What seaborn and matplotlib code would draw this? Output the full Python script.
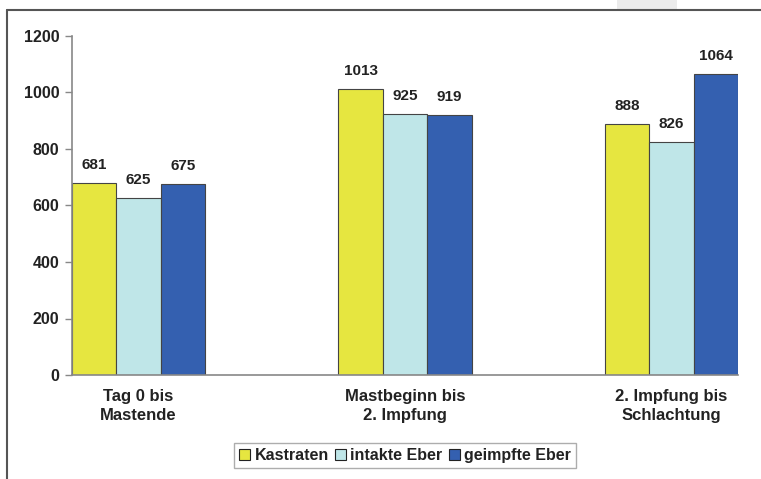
import matplotlib
matplotlib.use("Agg")
import matplotlib.pyplot as plt
from matplotlib.lines import Line2D
from matplotlib.patches import Rectangle
import seaborn as sns
import pandas as pd

# Phases (with empty spacer slots between them), groups and values
phases = ["Tag 0 bis\nMastende", "Mastbeginn bis\n2. Impfung", "2. Impfung bis\nSchlachtung"]
groups = ["Kastraten", "intakte Eber", "geimpfte Eber"]
kastraten = [681, 1013, 888]
intakte_eber = [625, 925, 826]
geimpfte_eber = [675, 919, 1064]
y_ticks = [0, 200, 400, 600, 800, 1000, 1200]

colors = ["#E6E640", "#BFE6E8", "#3460B0"]

rows = []
for g, vals in zip(groups, [kastraten, intakte_eber, geimpfte_eber]):
    for p, v in zip(phases, vals):
        rows.append({"Phase": p, "Gruppe": g, "Wert": v})
df = pd.DataFrame(rows)

order = [phases[0], " ", phases[1], "  ", phases[2]]

sns.set_style("white")
plt.rcParams["font.family"] = ["Liberation Sans", "DejaVu Sans"]
plt.rcParams["font.weight"] = "bold"

fig = plt.figure(figsize=(7.61, 4.79), dpi=100)
ax = fig.add_axes([72 / 761, 1 - 375 / 479, (738 - 72) / 761, (375 - 36) / 479])

sns.barplot(data=df, x="Phase", y="Wert", hue="Gruppe", order=order,
            hue_order=groups, palette=colors, saturation=1, width=1.0, gap=0,
            edgecolor="#444444", linewidth=0.8, ax=ax, legend=True)

for cont in ax.containers:
    ax.bar_label(cont, fmt="%d", padding=8, fontsize=11, fontweight="bold",
                 color="#222222")

ax.set_xlim(-0.5, 4.5)
ax.set_ylim(0, 1200)
ax.set_yticks(y_ticks)
ax.set_yticklabels([str(t) for t in y_ticks], fontsize=11.5, fontweight="bold",
                   color="#222222")
ax.set_xticks([0, 2, 4])
ax.set_xticklabels(phases, fontsize=12, fontweight="bold", linespacing=1.35,
                   color="#222222")
ax.set_xticks([-0.5, 0.5, 1.5, 2.5, 3.5, 4.5], minor=True)
ax.tick_params(axis="x", which="major", length=0, pad=10)
ax.tick_params(axis="x", which="minor", length=5, width=1, color="#888888",
               direction="out")
ax.tick_params(axis="y", length=5, width=1, color="#888888", direction="out",
               pad=4, left=True)
ax.set_xlabel("")
ax.set_ylabel("")

for side in ["top", "right"]:
    ax.spines[side].set_visible(False)
for side in ["left", "bottom"]:
    ax.spines[side].set_color("#888888")
    ax.spines[side].set_linewidth(1.2)

leg = ax.legend(loc="center", bbox_to_anchor=(0.5, -0.237), ncol=3,
                frameon=True, fontsize=11.5, handlelength=0.7, handleheight=0.7,
                handletextpad=0.25, columnspacing=0.4, borderpad=0.3,
                fancybox=False, edgecolor="#999999")
for t in leg.get_texts():
    t.set_fontweight("bold")
    t.set_color("#222222")
for h in leg.legend_handles:
    h.set_edgecolor("#222222")
    h.set_linewidth(0.8)

# outer chart frame (left and top edges)
fig.add_artist(Rectangle((617 / 761, 1 - 10 / 479), 60 / 761, 10 / 479,
                         transform=fig.transFigure, color="#EBEBEB", lw=0))
fig.add_artist(Line2D([7 / 761, 1], [1 - 10 / 479, 1 - 10 / 479],
                      transform=fig.transFigure, color="#555555", lw=1.5))
fig.add_artist(Line2D([7 / 761, 7 / 761], [0, 1 - 10 / 479],
                      transform=fig.transFigure, color="#555555", lw=1.5))

fig.savefig("out.png", dpi=100)
